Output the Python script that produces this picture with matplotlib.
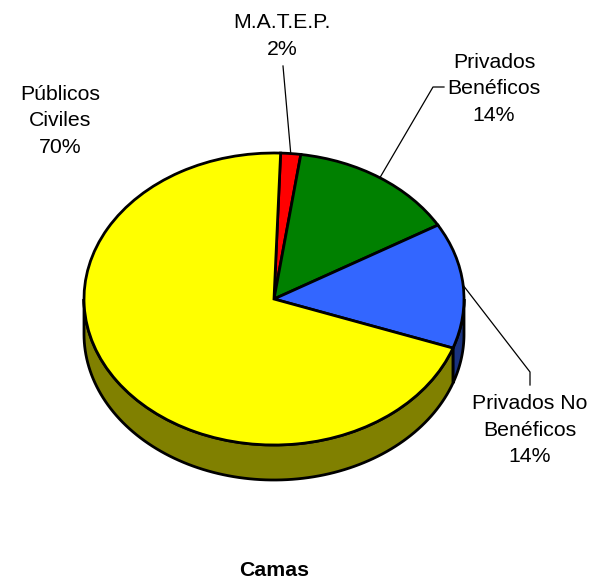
import numpy as np
import matplotlib
matplotlib.use('Agg')
import matplotlib.pyplot as plt

plt.rcParams['font.family'] = ['Liberation Sans', 'DejaVu Sans']

categories = ['M.A.T.E.P.', 'Privados\nBenéficos', 'Privados No\nBenéficos', 'Públicos\nCiviles']
values = [1.7, 14.3, 13.9, 70.1]
percent_labels = ['2%', '14%', '14%', '70%']
top_colors = ['#FF0000', '#008000', '#3366FF', '#FFFF00']
side_colors = ['#800000', '#004000', '#1A3380', '#808000']

W, H = 594, 582
CX, CY, RX, RY = 274, 299, 190, 146
DEPTH = 35 / RY
START = 88


def px(x, y):
    return (x - CX) / RX, (CY - y) / RY


fig = plt.figure(figsize=(W / 100, H / 100), dpi=100)
ax = fig.add_axes([0, 0, 1, 1])

# Walls first, the top of the pie goes over them
edges = START - np.cumsum([0] + values) * 3.6
for i in range(len(values)):
    hi, lo = edges[i], edges[i + 1]
    # only the part of the rim that faces the viewer
    p0, p1 = max(lo, -180), min(hi, 0)
    if p1 <= p0:
        continue
    t = np.radians(np.linspace(p0, p1, 100))
    xs = np.r_[np.cos(t), np.cos(t[::-1])]
    ys = np.r_[np.sin(t), np.sin(t[::-1]) - DEPTH]
    ax.fill(xs, ys, facecolor=side_colors[i], edgecolor='black', linewidth=2, zorder=1)

ax.pie(values, colors=top_colors, startangle=START, counterclock=False,
       wedgeprops={'edgecolor': 'black', 'linewidth': 2, 'zorder': 2})

ax.set_aspect('auto')
ax.set_xlim(-CX / RX, (W - CX) / RX)
ax.set_ylim((CY - H) / RY, CY / RY)
ax.axis('off')

# Leader lines
mid = np.radians((edges[:-1] + edges[1:]) / 2)
elbows = [[(283, 66)], [(433, 87), (444, 87)], [(530, 372), (530, 385)]]
for i, pts in enumerate(elbows):
    xs = [np.cos(mid[i])]
    ys = [np.sin(mid[i])]
    for p in pts:
        x, y = px(*p)
        xs.append(x)
        ys.append(y)
    ax.plot(xs, ys, color='black', linewidth=0.9, zorder=3, clip_on=False)

# Labels
label_pos = [(282, 36), (494, 89), (530, 430), (60, 121)]
for name, pct, pos in zip(categories, percent_labels, label_pos):
    x, y = px(*pos)
    ax.text(x, y, name + '\n' + pct, ha='center', va='center', fontsize=15.3,
            linespacing=1.5, color='black')

x, y = px(274, 571)
ax.text(x, y, 'Camas', ha='center', va='center', fontsize=15.3, fontweight='bold')

fig.savefig('out.png', dpi=100, facecolor='white')
